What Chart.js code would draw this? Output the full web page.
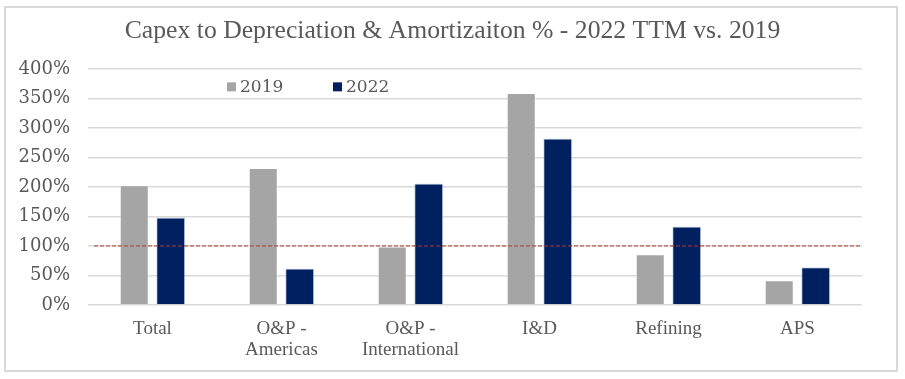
<!DOCTYPE html>
<html>
<head>
<meta charset="utf-8">
<script src="https://cdn.jsdelivr.net/npm/chart.js@4.4.0/dist/chart.umd.min.js"></script>
<style>
  html, body { margin: 0; padding: 0; background: #fff; }
  #wrap { width: 905px; height: 379px; }
</style>
</head>
<body>
<div id="wrap"><canvas id="capexChart" width="905" height="379"></canvas></div>
<script>
// Chart data (percent of D&A)
const categories = ['Total', ['O&P -', 'Americas'], ['O&P -', 'International'], 'I&D', 'Refining', 'APS'];
const values2019 = [203, 232, 99, 359, 86, 42];
const values2022 = [148, 62, 206, 282, 133, 64];
const seriesLabels = ['2019', '2022'];
const yTicks = [0, 50, 100, 150, 200, 250, 300, 350, 400];
const breakEven = 100;

const textColor = '#595959';

// light frame around the whole chart
const framePlugin = {
    id: 'frame',
    beforeDraw(chart) {
        const ctx = chart.ctx;
        ctx.save();
        ctx.fillStyle = '#fff';
        ctx.fillRect(0, 0, chart.width, chart.height);
        ctx.strokeStyle = '#d9d9d9';
        ctx.lineWidth = 2;
        ctx.strokeRect(5, 7, 892, 364);
        ctx.restore();
    }
};

// center the title on the whole canvas, not just the padded box
const titleCenterPlugin = {
    id: 'titleCenter',
    afterLayout(chart) {
        if (chart.titleBlock) {
            chart.titleBlock.left = 0;
            chart.titleBlock.right = chart.width;
        }
    }
};

// dashed 100% line, drawn over the bars
const breakEvenPlugin = {
    id: 'breakEven',
    afterDatasetsDraw(chart) {
        const ctx = chart.ctx;
        const y = chart.scales.y.getPixelForValue(breakEven);
        ctx.save();
        ctx.strokeStyle = '#b03a2e';
        ctx.lineWidth = 1;
        ctx.setLineDash([4, 2]);
        ctx.beginPath();
        ctx.moveTo(chart.chartArea.left + 6, y);
        ctx.lineTo(chart.chartArea.right, y);
        ctx.stroke();
        ctx.restore();
    }
};

// legend sits inside the plot, near the top left
const legendPlugin = {
    id: 'innerLegend',
    afterDraw(chart) {
        const ctx = chart.ctx;
        const area = chart.chartArea;
        const offsets = [139, 245];
        ctx.save();
        ctx.font = '17px "DejaVu Serif"';
        ctx.textBaseline = 'middle';
        chart.data.datasets.forEach((ds, i) => {
            const x = area.left + offsets[i];
            const y = area.top + 18;
            ctx.fillStyle = ds.backgroundColor;
            ctx.fillRect(x, y - 4.5, 9, 9);
            ctx.fillStyle = textColor;
            ctx.fillText(ds.label, x + 13, y + 1);
        });
        ctx.restore();
    }
};

const ctx = document.getElementById('capexChart').getContext('2d');
new Chart(ctx, {
    type: 'bar',
    data: {
        labels: categories,
        datasets: [
            {
                label: seriesLabels[0],
                data: values2019,
                backgroundColor: '#a5a5a5',
                borderColor: 'rgba(255, 255, 255, 0.45)',
                borderWidth: 1
            },
            {
                label: seriesLabels[1],
                data: values2022,
                backgroundColor: '#002060',
                borderColor: 'rgba(180, 195, 220, 0.6)',
                borderWidth: 1
            }
        ]
    },
    options: {
        responsive: false,
        animation: false,
        layout: {
            padding: { top: 10, right: 43, bottom: 0, left: 0 }
        },
        datasets: {
            bar: {
                categoryPercentage: 0.566,
                barPercentage: 0.795
            }
        },
        plugins: {
            legend: { display: false },
            tooltip: { enabled: false },
            title: {
                display: true,
                text: 'Capex to Depreciation & Amortizaiton % - 2022 TTM vs. 2019',
                color: textColor,
                font: { family: '"Liberation Serif"', size: 25.7, weight: 'normal' },
                padding: { top: 6, bottom: 22 }
            }
        },
        scales: {
            x: {
                grid: { display: false },
                border: { display: false },
                ticks: {
                    color: textColor,
                    font: { family: '"Liberation Serif"', size: 19, lineHeight: 1.1 },
                    padding: 6,
                    maxRotation: 0,
                    autoSkip: false
                },
                afterFit(scale) { scale.height = 74; }
            },
            y: {
                min: 0,
                max: 400,
                afterBuildTicks(scale) {
                    scale.ticks = yTicks.map(v => ({ value: v }));
                },
                grid: {
                    color: '#d9d9d9',
                    lineWidth: 1.5,
                    drawTicks: false
                },
                border: { display: false },
                ticks: {
                    color: textColor,
                    font: { family: '"DejaVu Serif"', size: 18 },
                    padding: 18,
                    callback: v => v + '%'
                },
                afterFit(scale) { scale.width = 88; }
            }
        }
    },
    plugins: [framePlugin, titleCenterPlugin, breakEvenPlugin, legendPlugin]
});
</script>
</body>
</html>
